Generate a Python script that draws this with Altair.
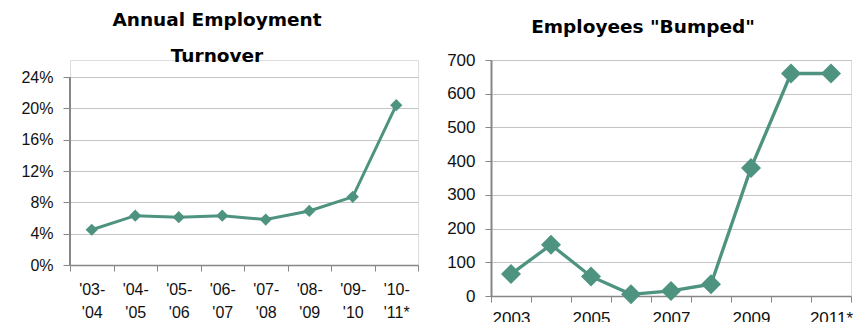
import altair as alt
import pandas as pd

# Left chart: annual employment turnover
turn_periods = ["'03-|'04", "'04-|'05", "'05-|'06", "'06-|'07", "'07-|'08", "'08-|'09", "'09-|'10", "'10-|'11*"]
turn_values = [0.045, 0.063, 0.061, 0.063, 0.058, 0.069, 0.087, 0.204]
turn_ticks = [0, 0.04, 0.08, 0.12, 0.16, 0.2, 0.24]

# Right chart: employees bumped
bump_years = ["2003", "2004", "2005", "2006", "2007", "2008", "2009", "2010", "2011*"]
bump_values = [65, 152, 58, 5, 15, 35, 380, 660, 660]
bump_ticks = [0, 100, 200, 300, 400, 500, 600, 700]
bump_shown_labels = ["2003", "2005", "2007", "2009", "2011*"]

LINE = "#4E9380"
GRID = "#C4C4C4"
AXIS = "#868686"
LABEL_FONT = "Liberation Sans"
TITLE_FONT = "DejaVu Sans"

df1 = pd.DataFrame({"period": turn_periods, "value": turn_values})
df2 = pd.DataFrame({"year": bump_years, "value": bump_values})

# left plot is drawn taller than its axis span so that its top aligns with the right plot
LEFT_H = 205
LEFT_SPAN = 188
left_top = turn_ticks[-1] * LEFT_H / LEFT_SPAN

y1_axis = alt.Axis(values=turn_ticks, format=".0%", domain=False, labelOverlap=False,
                   tickSize=7, labelPadding=10, labelFontSize=16, labelFont=LABEL_FONT,
                   tickColor=AXIS, gridColor=GRID, labelColor="#111")
y1_scale = alt.Scale(domain=[0, left_top], nice=False)

x1 = alt.X("period:N", sort=turn_periods, title=None,
           scale=alt.Scale(paddingInner=0, paddingOuter=0),
           axis=alt.Axis(labelAngle=0, tickBand="extent",
                         labelExpr="isValid(datum.value) ? split(datum.value, '|') : ''",
                         labelLineHeight=23, labelPadding=10, tickSize=6, labelFontSize=16,
                         domainColor=AXIS, tickColor=AXIS, domainWidth=1.5, labelColor="#111",
                         labelFont=LABEL_FONT, grid=False))
y1 = alt.Y("value:Q", title=None, scale=y1_scale, axis=y1_axis)

base1 = alt.Chart(df1).encode(x=x1, y=y1)
axis_line = alt.Chart(df1).mark_rule(color=AXIS, strokeWidth=2).encode(
    x=alt.value(0),
    y=alt.Y(datum=turn_ticks[0], scale=y1_scale, axis=y1_axis, title=None),
    y2=alt.datum(turn_ticks[-1]))
left = (base1.mark_line(color=LINE, strokeWidth=3) +
        base1.mark_point(shape="diamond", filled=True, size=150, color=LINE, opacity=1) +
        axis_line
        ).properties(width=348, height=LEFT_H,
                     title=alt.TitleParams(["Annual Employment", "Turnover"], font=TITLE_FONT,
                                           fontSize=18.5, fontWeight="bold", lineHeight=36,
                                           dx=-27, offset=-5, color="#000"))

label_test = "indexof(" + str(bump_shown_labels) + ", datum.value) >= 0 ? datum.value : ''"
x2 = alt.X("year:N", sort=bump_years, title=None,
           scale=alt.Scale(paddingInner=0, paddingOuter=0),
           axis=alt.Axis(labelAngle=0, tickBand="extent", labelExpr=label_test,
                         labelPadding=8, tickSize=6, labelFontSize=17, labelFont=LABEL_FONT,
                         domainColor=AXIS, tickColor=AXIS, domainWidth=1.5, labelColor="#111",
                         grid=False))
y2 = alt.Y("value:Q", title=None,
           scale=alt.Scale(domain=[bump_ticks[0], bump_ticks[-1]], nice=False),
           axis=alt.Axis(values=bump_ticks, labelOverlap=False,
                         tickSize=6, labelPadding=10, labelFontSize=17, labelFont=LABEL_FONT,
                         domainColor=AXIS, domainWidth=2, tickColor=AXIS, gridColor=GRID,
                         labelColor="#111"))

base2 = alt.Chart(df2).encode(x=x2, y=y2)
right = (base2.mark_line(color=LINE, strokeWidth=3.3) +
         base2.mark_point(shape="diamond", filled=True, size=400, color=LINE, opacity=1)
         ).properties(width=360, height=236,
                      title=alt.TitleParams('Employees "Bumped"', font=TITLE_FONT,
                                            fontSize=18.5, fontWeight="bold",
                                            dx=-28, offset=15, color="#000"))

chart = alt.hconcat(left, right, spacing=27).properties(
    padding={"left": 20, "top": 10, "right": 0, "bottom": 0}
).configure_view(stroke=None).configure(background="white")

chart.save("out.html", embed_options={"renderer": "svg", "actions": False})
